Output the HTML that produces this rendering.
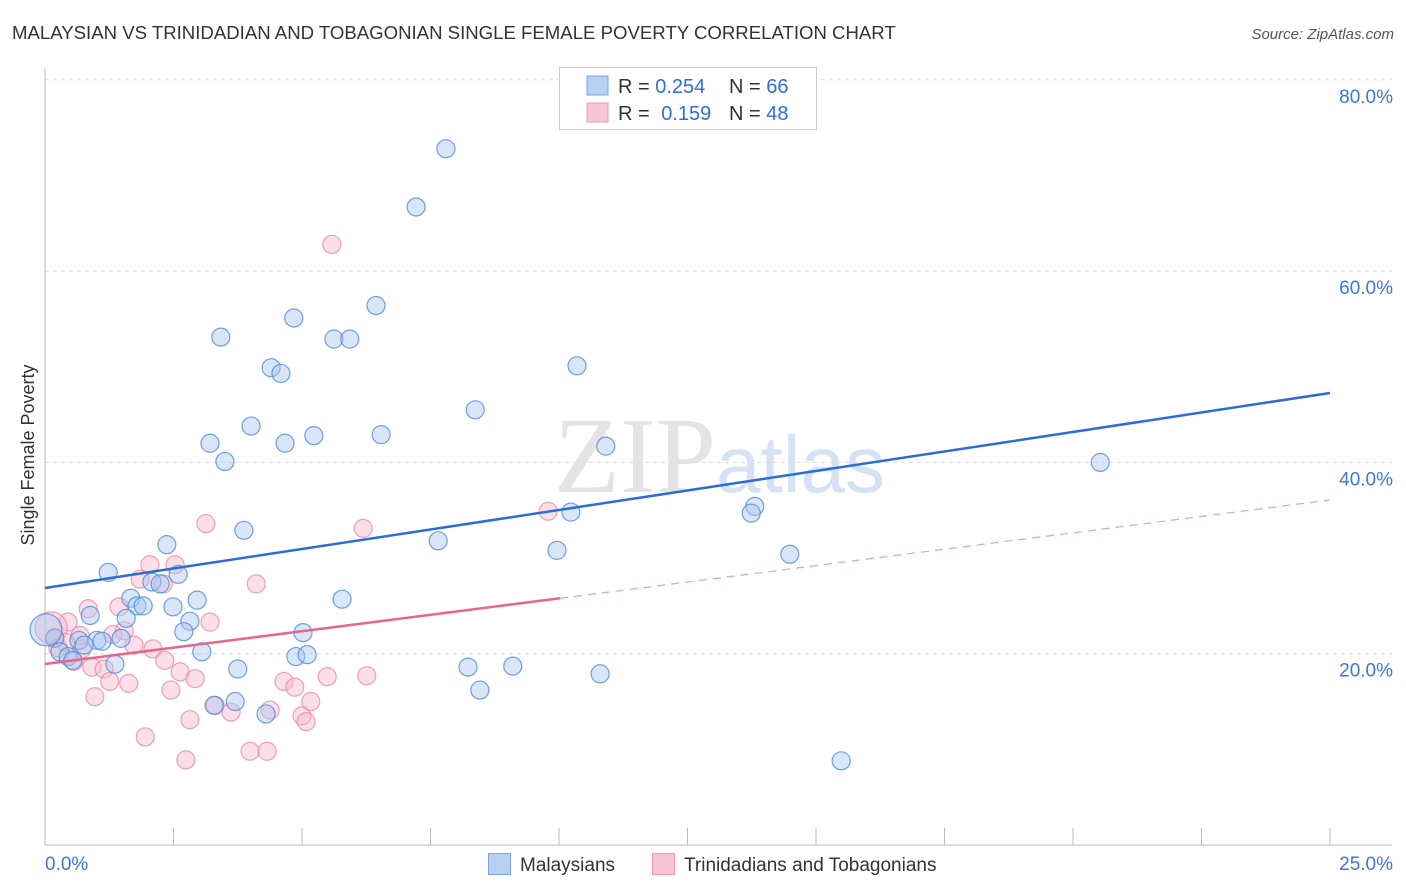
<!DOCTYPE html>
<html><head><meta charset="utf-8"><style>
body{margin:0;background:#fff;font-family:"Liberation Sans",sans-serif;}
#wrap{position:relative;width:1406px;height:892px;overflow:hidden;}
</style></head><body>
<div id="wrap">
<svg id="svg" width="1406" height="892" xmlns="http://www.w3.org/2000/svg" style="position:absolute;left:0;top:0">
<text x="12" y="39" font-size="18.6" fill="#333">MALAYSIAN VS TRINIDADIAN AND TOBAGONIAN SINGLE FEMALE POVERTY CORRELATION CHART</text>
<text x="1394" y="39" font-size="15" fill="#555" font-style="italic" text-anchor="end">Source: ZipAtlas.com</text>
<text x="716" y="492" font-size="108" fill="#e4e4e4" text-anchor="end" font-family="Liberation Serif,serif">ZIP</text>
<text x="716" y="492" font-size="80" fill="#d4e2f4">atlas</text>
<text x="34" y="455" font-size="18" fill="#333" text-anchor="middle" transform="rotate(-90 34 455)">Single Female Poverty</text>
<g id="grid"></g>
<g id="marks"></g>
<g>
<rect x="559.5" y="67.5" width="257" height="62" fill="#fff" stroke="#ccc"/>
<rect x="587" y="76" width="21" height="19" fill="#b8d1f3" stroke="#7aa6e6"/>
<rect x="587" y="103" width="21" height="19" fill="#f9c6d5" stroke="#ef97b2"/>
<text x="618" y="93" font-size="20" fill="#333">R = <tspan fill="#2f6fd6">0.254</tspan></text>
<text x="729" y="93" font-size="20" fill="#333">N = <tspan fill="#2f6fd6">66</tspan></text>
<text x="618" y="120" font-size="20" fill="#333">R = <tspan fill="#2f6fd6" dx="6">0.159</tspan></text>
<text x="729" y="120" font-size="20" fill="#333">N = <tspan fill="#2f6fd6">48</tspan></text>
</g>
<g>
<rect x="488.5" y="853.5" width="22" height="21" fill="#b8d1f3" stroke="#7aa6e6"/>
<text x="520" y="871" font-size="19" fill="#333">Malaysians</text>
<rect x="652.5" y="853.5" width="22" height="21" fill="#f9c6d5" stroke="#ef97b2"/>
<text x="684" y="871" font-size="19" fill="#333">Trinidadians and Tobagonians</text>
</g>
</svg>
</div>
<script>
const blueX=[7.80,7.22,6.44,4.84,3.42,5.62,5.93,10.35,4.40,4.59,8.37,4.01,5.23,6.54,3.21,4.67,10.91,3.50,20.53,13.81,13.74,10.23,3.87,7.65,2.37,9.96,14.49,1.23,2.59,2.08,2.24,1.67,2.96,5.78,1.79,1.91,2.49,0.88,1.58,2.82,2.70,5.02,1.48,0.66,1.01,1.11,0.19,0.76,3.05,0.29,0.45,0.54,4.88,5.10,1.36,3.75,8.23,9.10,10.80,8.46,3.70,3.29,4.30,15.49,0.02];
const blueY=[72.8,66.7,56.4,55.1,53.1,52.9,52.9,50.1,49.9,49.3,45.5,43.8,42.8,42.9,42.0,42.0,41.7,40.1,40.0,35.4,34.7,34.8,32.9,31.8,31.4,30.8,30.4,28.5,28.3,27.5,27.3,25.8,25.6,25.7,25.0,25.0,24.9,24.0,23.7,23.4,22.3,22.2,21.6,21.4,21.4,21.3,21.6,20.9,20.2,20.2,19.7,19.3,19.7,19.9,18.9,18.4,18.6,18.7,17.9,16.2,15.0,14.6,13.7,8.8,22.5];
const pinkX=[5.58,3.13,6.19,9.79,2.04,2.53,1.85,4.11,2.30,0.84,1.44,0.45,3.21,1.54,1.32,0.12,0.19,1.73,2.10,0.72,2.33,0.56,0.91,1.15,2.63,1.26,2.92,1.63,5.49,6.26,4.65,4.86,2.45,0.97,5.17,3.31,3.62,4.38,5.00,5.08,2.82,1.95,3.99,4.32,2.74,0.68,0.25,0.40];
const pinkY=[62.8,33.6,33.1,34.9,29.3,29.3,27.8,27.3,27.3,24.7,24.9,23.3,23.3,22.4,22.0,22.7,21.7,20.9,20.5,20.5,19.3,19.2,18.6,18.4,18.1,17.1,17.4,16.9,17.6,17.7,17.1,16.5,16.2,15.5,15.0,14.6,13.9,14.1,13.5,12.9,13.1,11.3,9.8,9.8,8.9,21.9,20.6,21.2];
const blueTrend=[26.87,47.26];
const pinkTrend=[18.92,36.07];
const pinkSolidEnd=10.02;
const yTicks=[20,40,60,80];
const yTickLabels=["20.0%","40.0%","60.0%","80.0%"];
const xTickCount=10;
const xLabels=["0.0%","25.0%"];

const X0=45,X1=1330,Y0=845,YS=191.3/20;
const sx=v=>X0+(v/25)*(X1-X0);
const sy=v=>Y0-v*YS;
const NS="http://www.w3.org/2000/svg";
function mk(tag,attrs,parent){const e=document.createElementNS(NS,tag);for(const k in attrs)e.setAttribute(k,attrs[k]);parent.appendChild(e);return e;}
const grid=document.getElementById('grid'),marks=document.getElementById('marks');
yTicks.forEach((t,i)=>{
  const g=mk('line',{x1:45,x2:1392,y1:sy(t),y2:sy(t),stroke:'#ddd','stroke-dasharray':'4,4'},grid);
  
  
  const l=mk('text',{x:1393,y:sy(t)+23,'font-size':19,fill:'#3b78d8','text-anchor':'end'},grid);
  l.textContent=yTickLabels[i];
  
  
});
const ax=mk('line',{x1:45,x2:1392,y1:Y0,y2:Y0,stroke:'#bbb'},grid);


const ay=mk('line',{x1:45,x2:45,y1:68,y2:Y0,stroke:'#bbb'},grid);


for(let i=0;i<=xTickCount;i++){
  const t=mk('line',{x1:sx(i*25/xTickCount),x2:sx(i*25/xTickCount),y1:828,y2:Y0,stroke:'#bbb'},grid);
  
  
}
const xl0=mk('text',{x:45,y:870,'font-size':19,fill:'#3b78d8'},grid);xl0.textContent=xLabels[0];


const xl1=mk('text',{x:1393,y:870,'font-size':19,fill:'#3b78d8','text-anchor':'end'},grid);xl1.textContent=xLabels[1];



function dots(xs,ys,fill,stroke,name){
  xs.forEach((x,i)=>{
    const big=(x<0.15);
    const c=mk('circle',{cx:sx(x),cy:sy(ys[i]),r:big?16:9,fill:fill,'fill-opacity':0.45,stroke:stroke,'stroke-opacity':0.8,'stroke-width':1.2},marks);
    
    
  });
}
dots(pinkX,pinkY,'#f7b7cb','#e88aa8','trinidadian-point');
dots(blueX,blueY,'#a9c8f0','#4f88d9','malaysian-point');
const bt=mk('line',{x1:sx(0),y1:sy(blueTrend[0]),x2:sx(25),y2:sy(blueTrend[1]),stroke:'#2a6dd6','stroke-width':2.5},marks);


const pAt=v=>pinkTrend[0]+(pinkTrend[1]-pinkTrend[0])*v/25;
const pt=mk('line',{x1:sx(0),y1:sy(pinkTrend[0]),x2:sx(pinkSolidEnd),y2:sy(pAt(pinkSolidEnd)),stroke:'#e8658f','stroke-width':2.5},marks);


const pd=mk('line',{x1:sx(pinkSolidEnd),y1:sy(pAt(pinkSolidEnd)),x2:sx(25),y2:sy(pinkTrend[1]),stroke:'#e8a0b6','stroke-width':1.2,'stroke-dasharray':'8,6'},marks);


</script>
</body></html>
